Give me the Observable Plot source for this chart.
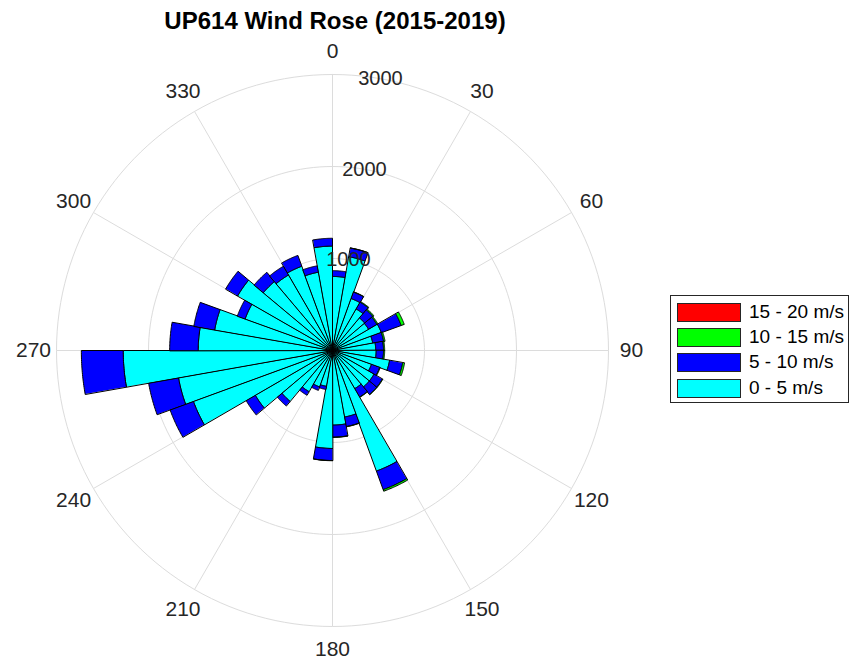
<!DOCTYPE html>
<html>
<head>
<meta charset="utf-8">
<script src="https://cdn.jsdelivr.net/npm/d3@7"></script>
<script src="https://cdn.jsdelivr.net/npm/@observablehq/plot@0.6"></script>
<style>
  body { margin: 0; background: #fff; font-family: "Liberation Sans", Arial, sans-serif; }
  #wrap { position: relative; width: 851px; height: 662px; overflow: hidden; background: #fff; }
  #chart { position: absolute; left: 0; top: 0; }
  #title { position: absolute; left: 0; width: 670px; top: 7px; text-align: center; font-weight: bold; font-size: 24px; color: #000; line-height: 28px; }
  #legend { position: absolute; left: 670px; top: 295px; width: 179px; height: 108px; border: 1px solid #262626; box-sizing: border-box; background: #fff; }
  .row { position: absolute; left: 6px; height: 19px; }
  .sw { position: absolute; left: 0; top: 0; width: 64px; height: 19px; box-sizing: border-box; border: 1px solid #262626; }
  .lab { position: absolute; left: 72px; top: -2px; font-size: 19px; color: #000; white-space: nowrap; line-height: 22px; }
</style>
</head>
<body>
<div id="wrap">
  <div id="chart"></div>
  <div id="title">UP614 Wind Rose (2015-2019)</div>
  <div id="legend"></div>
</div>
<script>
// ---- data ----
const directions = [0,10,20,30,40,50,60,70,80,90,100,110,120,130,140,150,160,170,180,190,200,210,220,230,240,250,260,270,280,290,300,310,320,330,340,350];
const binWidth = 10;
const speedClasses = ["0 - 5 m/s", "5 - 10 m/s", "10 - 15 m/s", "15 - 20 m/s"];
const classColors = ["#00ffff", "#0000ff", "#00ff00", "#ff0000"];
const speed0to5   = [805,1035,600,520,460,455,565,445,470,475,630,450,520,520,480,1395,735,811,1065,395,420,515,720,970,1610,1700,2275,1460,1300,1010,1190,980,950,975,865,1135];
const speed5to10  = [63,95,75,85,115,105,230,120,85,80,145,95,105,105,105,215,105,131,131,35,40,45,65,115,270,330,455,310,230,90,150,130,110,125,70,85];
const speed10to15 = [0,2,3,8,12,12,35,15,12,12,20,6,5,4,4,18,3,3,2,0,0,0,0,0,0,0,0,0,0,0,0,0,0,0,0,0];
const speed15to20 = [0,0,0,0,0,0,0,0,0,0,0,0,0,0,0,0,0,0,0,0,0,0,0,0,0,0,0,0,0,0,0,0,0,0,0,0];
const ringTicks = [1000, 2000, 3000];
const angleTicks = [0,30,60,90,120,150,180,210,240,270,300,330];
const angleLabelRadius = 3250;
const ringLabelAngle = 10;

// ---- polar projection (compass: 0 at top, clockwise) ----
const cx = 332, cy = 350;
const radius = d3.scaleLinear([0, 3000], [0, 276]);
const polar = () => d3.geoTransform({
  point(a, v) {
    const t = a * Math.PI / 180, r = radius(v);
    this.stream.point(cx + r * Math.sin(t), cy - r * Math.cos(t));
  }
});

// ---- stacked wedge segments ----
const series = [speed0to5, speed5to10, speed10to15, speed15to20];
const segments = [];
directions.forEach((dir, i) => {
  let base = 0;
  series.forEach((s, j) => {
    const v = s[i];
    if (v > 0) segments.push({dir, cls: speedClasses[j], r0: base, r1: base + v});
    base += v;
  });
});
const steps = 20;
const wedges = segments.map(({dir, cls, r0, r1}) => {
  const a0 = dir, a1 = dir + binWidth;
  const outer = d3.range(0, steps + 1).map(k => [a0 + (a1 - a0) * k / steps, r1]);
  const inner = r0 > 0 ? d3.range(steps, -1, -1).map(k => [a0 + (a1 - a0) * k / steps, r0]) : [[a0, 0]];
  return {type: "Feature", properties: {cls}, geometry: {type: "Polygon", coordinates: [[...outer, ...inner, outer[0]]]}};
});

const ringPts = ringTicks.flatMap(v => d3.range(0, 361, 2).map(a => ({a, v})));

const plot = Plot.plot({
  width: 660,
  height: 662,
  projection: polar,
  color: {domain: speedClasses, range: classColors},
  style: {background: "transparent", fontFamily: "'Liberation Sans', Arial, sans-serif", overflow: "visible"},
  marks: [
    Plot.line(ringPts, {x: "a", y: "v", z: "v", stroke: "#dcdcdc", strokeWidth: 1}),
    Plot.link(angleTicks, {x1: d => d, y1: () => 0, x2: d => d, y2: () => 3000, stroke: "#dcdcdc", strokeWidth: 1}),
    Plot.geo(wedges, {fill: d => d.properties.cls, stroke: "#000", strokeWidth: 1}),
    Plot.text(angleTicks, {x: d => d, y: () => angleLabelRadius, text: d => String(d), fontSize: 21, fill: "#262626"}),
    Plot.text(ringTicks, {x: () => ringLabelAngle, y: d => d, text: d => String(d), fontSize: 20, fill: "#262626"})
  ]
});
document.getElementById("chart").appendChild(plot);

// ---- legend (top to bottom: highest speed first) ----
const legend = document.getElementById("legend");
const rowTops = [7, 32, 57, 83];
speedClasses.slice().reverse().forEach((c, k) => {
  const row = document.createElement("div");
  row.className = "row";
  row.style.top = rowTops[k] + "px";
  const sw = document.createElement("div");
  sw.className = "sw";
  sw.style.background = classColors[speedClasses.indexOf(c)];
  const lab = document.createElement("div");
  lab.className = "lab";
  lab.textContent = c;
  row.appendChild(sw); row.appendChild(lab);
  legend.appendChild(row);
});
</script>
</body>
</html>
